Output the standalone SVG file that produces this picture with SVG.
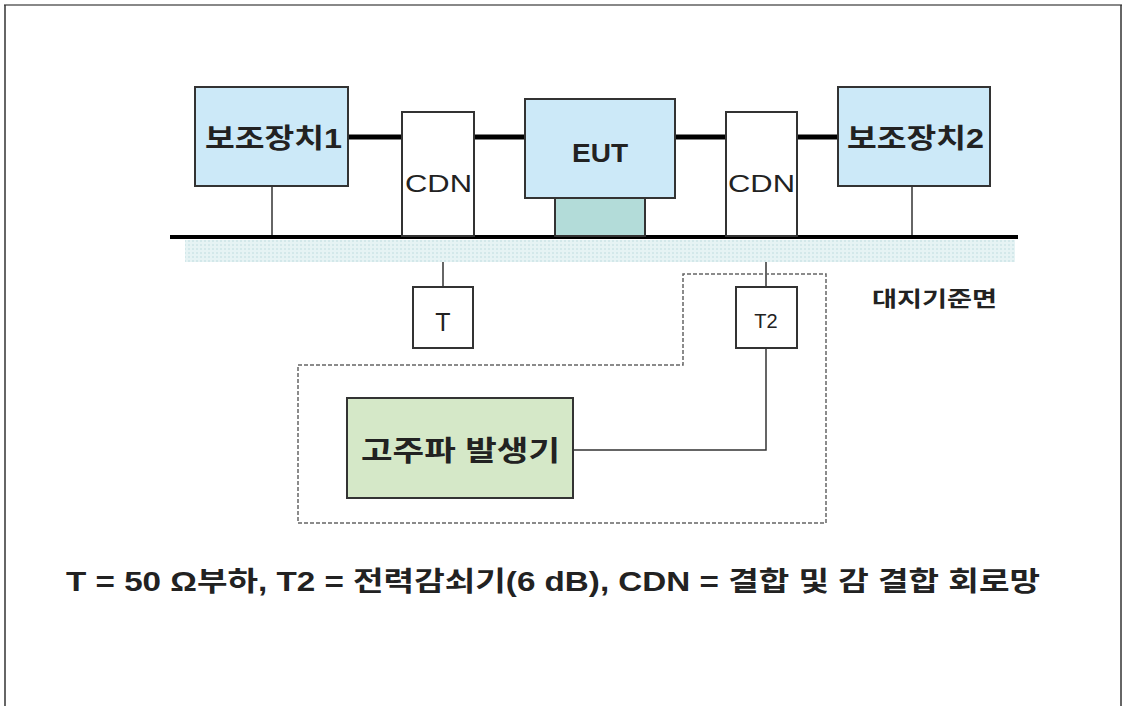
<svg xmlns="http://www.w3.org/2000/svg" width="1123" height="706" viewBox="0 0 1123 706">
<defs>
<pattern id="dots" width="4" height="4" patternUnits="userSpaceOnUse">
<rect width="4" height="4" fill="#e6f3f4"/>
<rect width="2" height="2" fill="#d3e8ea"/>
</pattern>
</defs>
<style>
.box{stroke:#333;stroke-width:2}
.blue{fill:#cce9f8}
.white{fill:#fff}
.green{fill:#d5e8c8}
.teal{fill:#b3dcd9}
.thin{stroke:#333;stroke-width:1.5;fill:none}
.thick{stroke:#000;stroke-width:5;fill:none}
.t{font-family:"Liberation Sans","Noto Sans CJK KR",sans-serif;fill:#222}
.b{font-weight:bold}
</style>
<rect width="1123" height="706" fill="#fff"/>
<g id="frame">
<line x1="4" y1="5" x2="1122" y2="5" stroke="#888" stroke-width="2"/>
<line x1="5" y1="5" x2="5" y2="706" stroke="#333" stroke-width="1.5"/>
<line x1="1121" y1="5" x2="1121" y2="706" stroke="#333" stroke-width="1.5"/>
</g>
<g id="ground-plane">
<rect x="185" y="240" width="830" height="22" fill="url(#dots)"/>
</g>
<g id="connectors">
<line class="thick" x1="348" y1="137" x2="402" y2="137"/>
<line class="thick" x1="474" y1="137" x2="525" y2="137"/>
<line class="thick" x1="675" y1="137" x2="726" y2="137"/>
<line class="thick" x1="797" y1="137" x2="838" y2="137"/>
<line class="thin" x1="272" y1="186" x2="272" y2="236"/>
<line class="thin" x1="912" y1="186" x2="912" y2="236"/>
<line class="thin" x1="443" y1="186" x2="443" y2="236"/>
<line class="thin" x1="766" y1="200" x2="766" y2="236"/>
<line class="thin" x1="443" y1="262" x2="443" y2="287"/>
<line class="thin" x1="766" y1="262" x2="766" y2="287"/>
<polyline class="thin" points="766,348 766,450 574,450"/>
<line x1="170" y1="237" x2="1018" y2="237" stroke="#000" stroke-width="4"/>
<polygon points="298,365 683,365 683,274 826,274 826,523 298,523" fill="none" stroke="#666" stroke-width="1.5" stroke-dasharray="4,2"/>
</g>
<g id="aux1">
<rect class="box blue" x="195" y="87" width="153" height="99"/>
<text class="t b" x="205" y="148" font-size="27" textLength="137" lengthAdjust="spacingAndGlyphs">보조장치1</text>
</g>
<g id="cdn1">
<rect class="box white" x="402" y="112" width="72" height="124"/>
<text class="t" x="405" y="192" font-size="24" textLength="67" lengthAdjust="spacingAndGlyphs">CDN</text>
</g>
<g id="eut">
<rect class="box teal" x="555" y="198" width="90" height="38"/>
<rect class="box blue" x="525" y="99" width="150" height="99"/>
<text class="t b" x="572" y="162" font-size="26" textLength="56" lengthAdjust="spacingAndGlyphs">EUT</text>
</g>
<g id="cdn2">
<rect class="box white" x="726" y="112" width="71" height="124"/>
<text class="t" x="728" y="192" font-size="24" textLength="67" lengthAdjust="spacingAndGlyphs">CDN</text>
</g>
<g id="aux2">
<rect class="box blue" x="838" y="87" width="152" height="99"/>
<text class="t b" x="847" y="148" font-size="27" textLength="137" lengthAdjust="spacingAndGlyphs">보조장치2</text>
</g>
<g id="term-t">
<rect class="box white" x="413" y="287" width="60" height="61"/>
<text class="t" x="443" y="331" font-size="25" text-anchor="middle">T</text>
</g>
<g id="term-t2">
<rect class="box white" x="736" y="287" width="61" height="61"/>
<text class="t" x="766" y="328" font-size="20" text-anchor="middle">T2</text>
</g>
<g id="generator">
<rect class="box green" x="347" y="398" width="226" height="100"/>
<text class="t b" x="361" y="461" font-size="28" textLength="199" lengthAdjust="spacingAndGlyphs">고주파 발생기</text>
</g>
<g id="labels">
<text class="t b" x="872" y="306" font-size="21" textLength="125" lengthAdjust="spacingAndGlyphs">대지기준면</text>
<text class="t b" x="66" y="591" font-size="27" textLength="974" lengthAdjust="spacingAndGlyphs">T = 50 Ω부하, T2 = 전력감쇠기(6 dB), CDN = 결합 및 감 결합 회로망</text>
</g>
</svg>
